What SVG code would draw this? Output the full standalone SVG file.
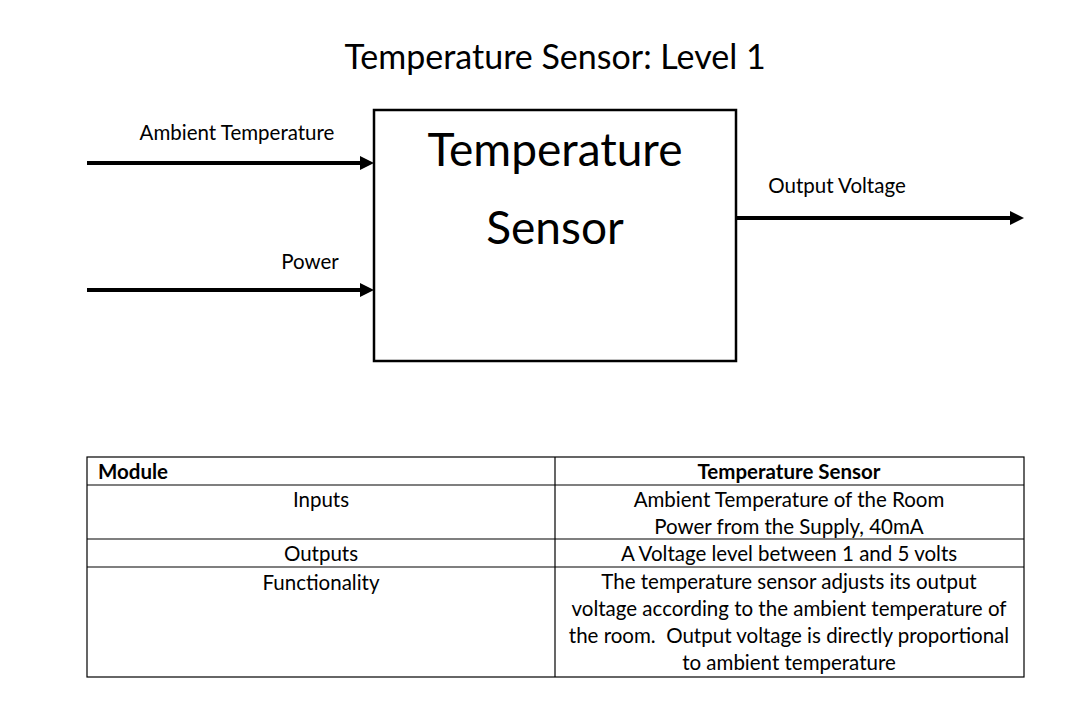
<svg xmlns="http://www.w3.org/2000/svg" width="1077" height="708" viewBox="0 0 1077 708">
<style>
text{font-family:Lato,"Open Sans","Liberation Sans",sans-serif;fill:#000}
.lbl{font-size:20.5px}
.c{text-anchor:middle}
.b{font-weight:bold}
.conn{stroke:#000;stroke-width:4;fill:none}
.head{fill:#000}
.grid{stroke:#000;stroke-width:1.2;fill:none}
</style>
<rect width="1077" height="708" fill="#fff"/>
<text x="555" y="69" class="c" font-size="34">Temperature Sensor: Level 1</text>
<g id="sensor">
<rect x="374" y="110" width="362" height="251" fill="#fff" stroke="#000" stroke-width="2.5"/>
<text x="555" y="166" class="c" font-size="46">Temperature</text>
<text x="555" y="244" class="c" font-size="46">Sensor</text>
</g>
<g id="connectors">
<line class="conn" x1="87" y1="163" x2="362" y2="163"/>
<polygon class="head" points="360,156 374,163 360,170"/>
<line class="conn" x1="87" y1="290" x2="362" y2="290"/>
<polygon class="head" points="360,283 374,290 360,297"/>
<line class="conn" x1="736" y1="218" x2="1012" y2="218"/>
<polygon class="head" points="1010,211 1024,218 1010,225"/>
</g>
<g id="labels">
<text x="237" y="140" class="lbl c">Ambient Temperature</text>
<text x="310" y="269" class="lbl c">Power</text>
<text x="837" y="193" class="lbl c">Output Voltage</text>
</g>
<g id="table">
<rect class="grid" x="87" y="457" width="937" height="220"/>
<line class="grid" x1="555" y1="457" x2="555" y2="677"/>
<line class="grid" x1="87" y1="485" x2="1024" y2="485"/>
<line class="grid" x1="87" y1="539" x2="1024" y2="539"/>
<line class="grid" x1="87" y1="567" x2="1024" y2="567"/>
<text x="98" y="479" class="lbl b">Module</text>
<text x="789" y="479" class="lbl b c">Temperature Sensor</text>
<text x="321" y="507" class="lbl c">Inputs</text>
<text x="789" y="507" class="lbl c">Ambient Temperature of the Room</text>
<text x="789" y="534" class="lbl c">Power from the Supply, 40mA</text>
<text x="321" y="561" class="lbl c">Outputs</text>
<text x="789" y="561" class="lbl c">A Voltage level between 1 and 5 volts</text>
<text x="321" y="590" class="lbl c">Functionality</text>
<text x="789" y="589" class="lbl c">The temperature sensor adjusts its output</text>
<text x="789" y="616" class="lbl c">voltage according to the ambient temperature of</text>
<text x="789" y="643" class="lbl c" xml:space="preserve">the room.  Output voltage is directly proportional</text>
<text x="789" y="670" class="lbl c">to ambient temperature</text>
</g>
</svg>
